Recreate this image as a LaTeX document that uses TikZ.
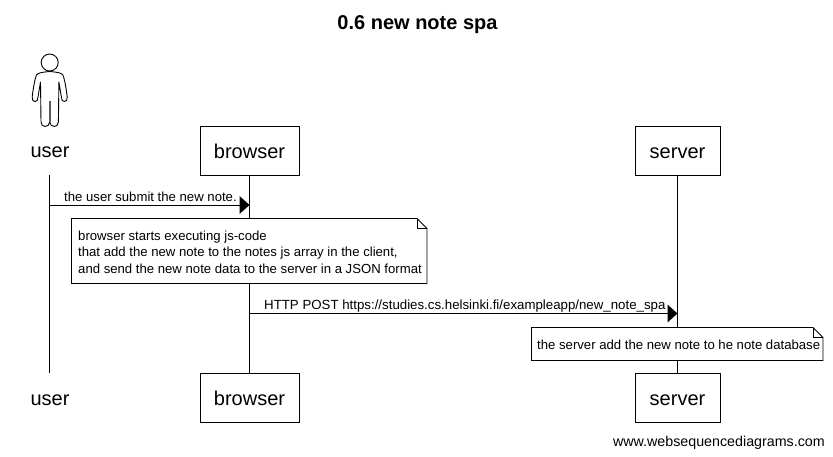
\documentclass[tikz,border=0pt]{standalone}
\usepackage{fontspec}
\setmainfont{Liberation Sans}
\tikzset{
  px/.style={x=1pt,y=-1pt},
  ln/.style={draw=black,line width=0.9pt},
  partbox/.style={ln,fill=white,minimum height=49pt,inner sep=0pt,font=\fontsize{20}{24}\selectfont,text=black,text depth=0pt,text height=15pt},
  partlabel/.style={inner sep=0pt,font=\fontsize{20}{24}\selectfont},
  msg/.style={inner sep=0pt,font=\fontsize{13.15}{16}\selectfont,anchor=base west},
  notetext/.style={inner sep=0pt,font=\fontsize{13.15}{16.5}\selectfont,anchor=west,align=left},
  head/.style={fill=black,draw=none},
}
\begin{document}
\begin{tikzpicture}[px]
\useasboundingbox (0,0) rectangle (833,456);
\node[font=\bfseries\fontsize{20}{24}\selectfont,inner sep=0pt] (title) at (417.5,25) {0.6 new note spa};
% participants
\node[partbox,minimum width=99pt] (browserT) at (249.5,150.5) {browser};
\node[partbox,minimum width=85pt] (serverT) at (677.5,150.5) {server};
\node[partbox,minimum width=99pt] (browserB) at (249.5,397.5) {browser};
\node[partbox,minimum width=85pt] (serverB) at (677.5,397.5) {server};
\node[partlabel] (userT) at (50,152.5) {user};
\node[partlabel] (userB) at (50,400.5) {user};
\coordinate (userTop) at (49.5,175);
\coordinate (userBot) at (49.5,373);
% lifelines
\draw[ln] (userTop) -- (userBot);
\draw[ln] (browserT.south) -- (browserB.north);
\draw[ln] (serverT.south) -- (serverB.north);
% actor
\draw[line width=0.9pt] (49.7,62.5) circle (8.5);
\draw[line width=0.9pt,line join=round]
  (49.7,71.5) .. controls (44,72) and (38,72.5) .. (36.5,75)
  .. controls (34.5,80) and (33,90) .. (32.2,97)
  .. controls (32,100) and (33,101.5) .. (35,101.5)
  .. controls (37,101.5) and (38,100) .. (38,97)
  -- (40.5,82) -- (41,122)
  .. controls (41,125) and (43,126.5) .. (45,126.5)
  .. controls (47,126.5) and (49.7,125) .. (49.7,122)
  .. controls (49.7,125) and (52.4,126.5) .. (54.4,126.5)
  .. controls (56.4,126.5) and (58.4,125) .. (58.4,122)
  -- (58.9,82) -- (61.4,97)
  .. controls (61.4,100) and (62.4,101.5) .. (64.4,101.5)
  .. controls (66.4,101.5) and (67.4,100) .. (67.2,97)
  .. controls (66.4,90) and (64.9,80) .. (62.9,75)
  .. controls (61.4,72.5) and (55.4,72) .. (49.7,71.5);
\draw[line width=2pt,black!65] (49.7,100.5) -- (49.7,122);
% messages
\coordinate (m1a) at (49.5,205);
\coordinate (m1b) at (249.5,205);
\coordinate (m2a) at (249.5,313.5);
\coordinate (m2b) at (677.5,313.5);
\draw[ln] (m1a) -- (m1b);
\fill[head] (m1b) -- ++(-10,-9) -- ++(0,18) -- cycle;
\draw[ln] (m2a) -- (m2b);
\fill[head] (m2b) -- ++(-10,-9) -- ++(0,18) -- cycle;
\node[msg] (m1t) at (64,201) {the user submit the new note.};
\node[msg,font=\fontsize{13.27}{16}\selectfont] (m2t) at (264,309) {HTTP POST https://studies.cs.helsinki.fi/exampleapp/new\_note\_spa};
% notes
\draw[ln,fill=white] (71.5,218.5) -- (417,218.5) -- (427,228.5) -- (427,283.5) -- (71.5,283.5) -- cycle;
\draw[ln] (417,218.5) -- (417,228.5) -- (427,228.5);
\node[notetext] (n1) at (78,252) {browser starts executing js-code\\that add the new note to the notes js array in the client,\\and send the new note data to the server in a JSON format};
\draw[ln,fill=white] (531.5,327.5) -- (813,327.5) -- (823,337.5) -- (823,360.5) -- (531.5,360.5) -- cycle;
\draw[ln] (813,327.5) -- (813,337.5) -- (823,337.5);
\node[notetext] (n2) at (537,344.5) {the server add the new note to he note database};
\node[inner sep=0pt,font=\fontsize{14.27}{16}\selectfont,anchor=base east] (wm) at (825,446) {www.websequencediagrams.com};
\end{tikzpicture}
\end{document}
